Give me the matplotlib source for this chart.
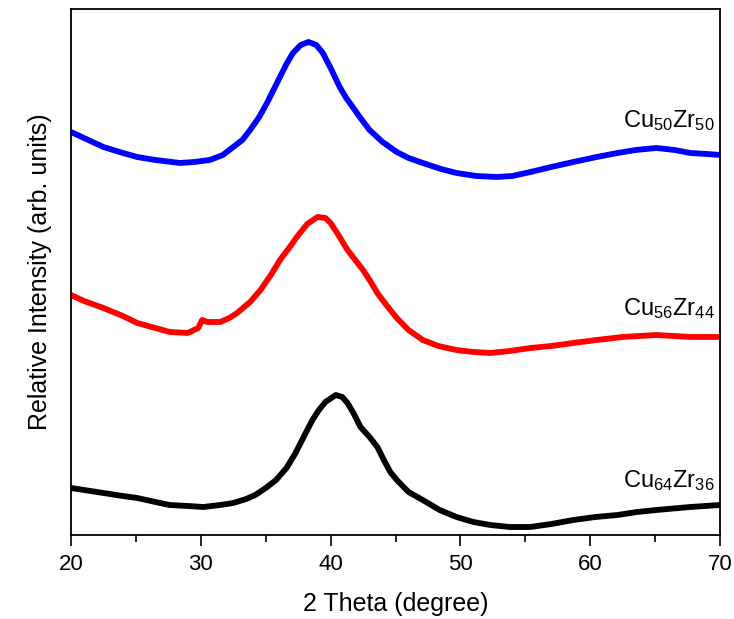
import matplotlib.pyplot as plt
from matplotlib.ticker import MultipleLocator

plt.rcParams['font.family'] = ['Liberation Sans', 'DejaVu Sans']
plt.rcParams['mathtext.fontset'] = 'custom'
plt.rcParams['mathtext.rm'] = 'Liberation Sans'
plt.rcParams['mathtext.it'] = 'Liberation Sans:italic'
plt.rcParams['mathtext.bf'] = 'Liberation Sans:bold'

# 2 theta (degree) and relative intensity (with stacking offset)
theta_50 = [20, 21, 22.5, 24, 25.1, 26.5, 28.4, 29.5, 30.7, 31.7, 32.5, 33.2, 33.8,
            34.5, 35.1, 35.6, 36.1, 36.6, 37.1, 37.7, 38.3, 38.9, 39.4, 40.0, 40.7,
            41.2, 41.7, 42.3, 43.0, 44.0, 45.1, 46.0, 47.1, 48.5, 49.7, 51.2, 52.8,
            54.0, 55.4, 57.0, 58.7, 60.5, 62.1, 63.5, 65.1, 66.5, 67.7, 69.0, 70.0]
int_50 = [403, 397, 388, 382, 378, 375, 372, 373, 375, 380, 388, 395, 405,
          418, 432, 445, 458, 471, 482, 490, 493, 490, 482, 467, 448,
          437, 428, 417, 405, 393, 383, 377, 372, 366, 362, 359, 358,
          359, 363, 368, 373, 378, 382, 385, 387, 385, 382, 381, 380]

theta_56 = [20, 21, 22.5, 24, 25.1, 26.5, 27.6, 29.0, 29.8, 30.1, 30.5, 31.5, 32.2,
            32.8, 33.8, 34.6, 35.4, 36.1, 36.8, 37.4, 38.2, 39.0, 39.6, 40.0, 40.6,
            41.3, 41.9, 42.5, 43.1, 43.6, 44.0, 44.6, 45.1, 46.0, 47.1, 48.3, 49.7,
            51.0, 52.3, 53.8, 55.4, 57.0, 58.7, 60.5, 62.5, 63.8, 65.1, 67.7, 70.0]
int_56 = [240, 234, 227, 219, 212, 207, 203, 202, 207, 215, 213, 213, 217,
          222, 233, 245, 260, 275, 287, 298, 311, 318, 317, 312, 300,
          285, 275, 265, 253, 242, 235, 225, 217, 205, 195, 189, 185,
          183, 182, 184, 187, 189, 192, 195, 198, 199, 200, 198, 198]

theta_64 = [20, 21, 22.5, 24, 25.1, 26.5, 27.6, 29.0, 30.2, 31.5, 32.5, 33.5, 34.2,
            35.0, 35.8, 36.6, 37.3, 38.0, 38.6, 39.1, 39.6, 40.4, 40.9, 41.3, 41.8,
            42.3, 43.0, 43.6, 44.1, 44.6, 45.1, 46.0, 47.1, 48.4, 49.7, 51.0, 52.3,
            53.8, 55.4, 57.0, 58.7, 60.4, 62.1, 63.6, 65.1, 67.7, 70.0]
int_64 = [47, 45, 42, 39, 37, 33, 30, 29, 28, 30, 32, 36, 40,
          47, 55, 67, 82, 100, 115, 125, 133, 140, 138, 132, 121,
          108, 98, 88, 75, 63, 55, 43, 35, 25, 18, 13, 10,
          8, 8, 11, 15, 18, 20, 23, 25, 28, 30]

labels = [r'$\mathregular{Cu_{50}Zr_{50}}$', r'$\mathregular{Cu_{56}Zr_{44}}$',
          r'$\mathregular{Cu_{64}Zr_{36}}$']
label_y = [408, 220, 48]
colors = ['#0000ff', '#ff0000', '#000000']

fig = plt.figure(figsize=(7.34, 6.19), dpi=100)
ax = fig.add_axes([0.0967, 0.1357, 0.8843, 0.8498])

series = [(theta_50, int_50), (theta_56, int_56), (theta_64, int_64)]
for (x, y), c in zip(series, colors):
    ax.plot(x, y, color=c, linewidth=4.2, solid_joinstyle='round', solid_capstyle='butt')

for text, ypos in zip(labels, label_y):
    ax.text(69.6, ypos, text, ha='right', va='baseline', fontsize=17)

ax.set_xlim(20, 70)
ax.set_ylim(0, 526)
ax.xaxis.set_major_locator(MultipleLocator(10))
ax.xaxis.set_minor_locator(MultipleLocator(5))
ax.tick_params(axis='x', which='major', direction='out', length=8, width=1.2,
               labelsize=16, top=False, pad=6)
ax.tick_params(axis='x', which='minor', direction='out', length=5, width=1.2, top=False)
ax.set_yticks([])
for s in ax.spines.values():
    s.set_linewidth(1.3)

ax.set_xlabel('2 Theta (degree)', fontsize=18, labelpad=12)
ax.set_ylabel('Relative Intensity (arb. units)', fontsize=18, labelpad=14)

plt.savefig('out.png', dpi=100)
